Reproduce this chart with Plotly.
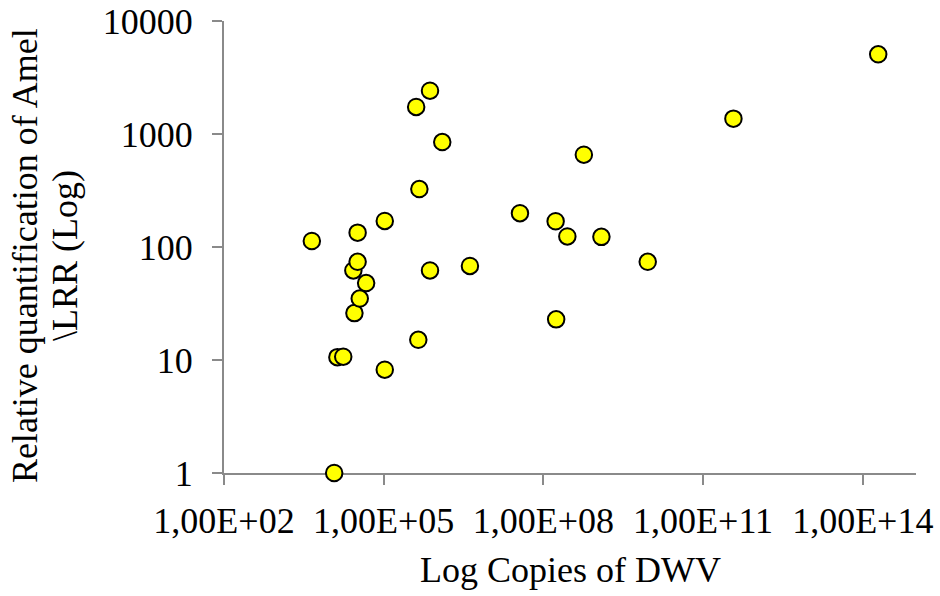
import plotly.graph_objects as go

# Data (x: DWV copies, y: relative quantification)
dwv_copies = [
    10**3.65, 10**4.07, 10**4.13, 10**4.24, 10**4.45, 10**4.43, 10**4.51, 10**4.51,
    10**4.55, 10**4.67, 10**5.02, 10**5.02, 10**5.61, 10**5.87, 10**6.10, 10**5.67,
    10**5.87, 10**5.65, 10**6.62, 10**7.56, 10**8.23, 10**8.45, 10**8.24, 10**8.76,
    10**9.09, 10**9.96, 10**11.57, 10**14.29,
]
rel_quant = [
    113, 1.0, 10.6, 10.7, 26, 62, 74, 134,
    35, 48, 170, 8.2, 1734, 2418, 849, 326,
    62, 15.1, 68, 199, 169, 124, 22.9, 656,
    123, 74, 1367, 5070,
]

x_tickvals = [1e2, 1e5, 1e8, 1e11, 1e14]
x_ticktext = ["1,00E+02", "1,00E+05", "1,00E+08", "1,00E+11", "1,00E+14"]
y_tickvals = [1, 10, 100, 1000, 10000]
y_ticktext = ["1", "10", "100", "1000", "10000"]

FONT = "Liberation Serif, Times New Roman, serif"
AXIS_GREY = "#8a8a8a"

fig = go.Figure()
fig.add_trace(go.Scatter(
    x=dwv_copies, y=rel_quant, mode="markers",
    marker=dict(size=16.5, color="#ffff00", line=dict(color="black", width=2)),
    cliponaxis=False, showlegend=False,
))

axis_common = dict(
    type="log", showgrid=False, zeroline=False,
    showline=True, linecolor=AXIS_GREY, linewidth=2,
    ticks="outside", ticklen=10, tickwidth=2, tickcolor=AXIS_GREY,
    layer="below traces", automargin=False,
    tickfont=dict(family=FONT, size=36, color="black"),
)

fig.update_layout(
    width=940, height=596,
    margin=dict(l=224, r=24, t=21, b=123),
    paper_bgcolor="white", plot_bgcolor="white",
    font=dict(family=FONT, size=36, color="black"),
    xaxis=dict(range=[2, 15], tickvals=x_tickvals, ticktext=x_ticktext,
               ticklabelstandoff=5, **axis_common),
    yaxis=dict(range=[0, 4], tickvals=y_tickvals, ticktext=y_ticktext,
               ticklabelstandoff=12, **axis_common),
    annotations=[
        dict(text="Log Copies of DWV", xref="paper", yref="paper",
             x=0.5, y=-0.2146, xanchor="center", yanchor="middle",
             showarrow=False, font=dict(family=FONT, size=36, color="black")),
        dict(text="Relative quantification of Amel", xref="paper", yref="paper",
             x=-0.2876, y=0.482, xanchor="center", yanchor="middle", textangle=-90,
             showarrow=False, font=dict(family=FONT, size=36, color="black")),
        dict(text="\\LRR (Log)", xref="paper", yref="paper",
             x=-0.2298, y=0.482, xanchor="center", yanchor="middle", textangle=-90,
             showarrow=False, font=dict(family=FONT, size=36, color="black")),
    ],
)

fig.write_html("out.html",
               config={"displayModeBar": False},
               post_script="document.body.style.margin='0';document.body.style.overflow='hidden';")
